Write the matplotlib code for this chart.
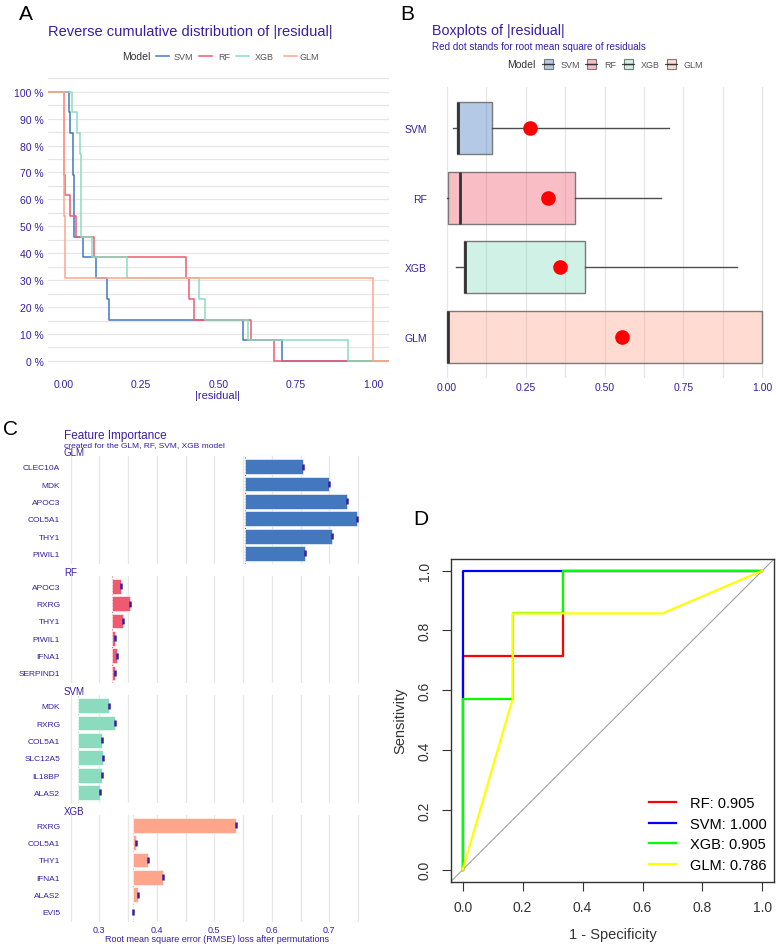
import numpy as np
import matplotlib
matplotlib.use("Agg")
import matplotlib.pyplot as plt
from matplotlib.lines import Line2D
from matplotlib.patches import Rectangle
from matplotlib.colors import to_rgba

plt.rcParams['font.family'] = ['Liberation Sans', 'DejaVu Sans']

W, H = 776, 945
PURPLE = "#371ea3"
GRID = "#e6e6e6"

# ---- data: absolute residuals per model (13 observations) ----
models = ["SVM", "RF", "XGB", "GLM"]
colors = ["#4378bf", "#f05a71", "#8bdcbe", "#ffa58c"]
svm_res = [0.019, 0.021, 0.030, 0.032, 0.034, 0.035, 0.036, 0.062, 0.105, 0.142, 0.148, 0.580, 0.704]
rf_res = [0.001, 0.002, 0.002, 0.003, 0.004, 0.022, 0.041, 0.100, 0.396, 0.406, 0.423, 0.605, 0.680]
xgb_res = [0.029, 0.043, 0.054, 0.056, 0.057, 0.057, 0.058, 0.091, 0.206, 0.438, 0.458, 0.597, 0.919]
glm_res = [0.001, 0.001, 0.002, 0.002, 0.003, 0.003, 0.004, 0.004, 0.005, 0.998, 0.999, 0.999, 1.000]
residuals = {"SVM": svm_res, "RF": rf_res, "XGB": xgb_res, "GLM": glm_res}

# ---- data: permutation feature importance (RMSE after permutation) ----
glm_vars = ["CLEC10A", "MDK", "APOC3", "COL5A1", "THY1", "PIWIL1"]
glm_loss = [0.654, 0.699, 0.731, 0.748, 0.705, 0.658]
rf_vars = ["APOC3", "RXRG", "THY1", "PIWIL1", "IFNA1", "SERPIND1"]
rf_loss = [0.338, 0.353, 0.341, 0.327, 0.330, 0.327]
svm_vars = ["MDK", "RXRG", "COL5A1", "SLC12A5", "IL18BP", "ALAS2"]
svm_loss = [0.316, 0.328, 0.305, 0.307, 0.305, 0.302]
xgb_vars = ["RXRG", "COL5A1", "THY1", "IFNA1", "ALAS2", "EVI5"]
xgb_loss = [0.538, 0.363, 0.385, 0.410, 0.367, 0.358]

# ---- data: ROC curves ----
roc_names = ["RF", "SVM", "XGB", "GLM"]
roc_colors = ["red", "blue", "#00ff00", "yellow"]
roc_auc = [0.905, 1.000, 0.905, 0.786]
rf_fpr = [0, 0, 0.3333, 0.3333, 1]
rf_tpr = [0, 0.7143, 0.7143, 1, 1]
svm_fpr = [0, 0, 1]
svm_tpr = [0, 1, 1]
xgb_fpr = [0, 0, 0.1667, 0.1667, 0.3333, 0.3333, 1]
xgb_tpr = [0, 0.5714, 0.5714, 0.8571, 0.8571, 1, 1]
glm_fpr = [0, 0.1667, 0.1667, 0.6667, 1]
glm_tpr = [0, 0.5714, 0.8571, 0.8571, 1]

fig = plt.figure(figsize=(W / 100, H / 100), dpi=100)


def px_axes(l, t, r, b):
    return fig.add_axes([l / W, 1 - b / H, (r - l) / W, (b - t) / H])


def ftext(x, y, s, **kw):
    kw.setdefault("va", "center")
    fig.text(x / W, 1 - y / H, s, **kw)


def rmse(r):
    r = np.asarray(r)
    return float(np.sqrt(np.mean(r ** 2)))


def clean(ax):
    for s in ax.spines.values():
        s.set_visible(False)
    ax.tick_params(length=0, labelcolor=PURPLE)


# panel letters
ftext(26, 15, "A", fontsize=15, ha="center")
ftext(407, 15, "B", fontsize=15, ha="center")
ftext(10, 430, "C", fontsize=15, ha="center")
ftext(421, 520, "D", fontsize=15, ha="center")

# ================= A: reverse cumulative distribution =================
axA = px_axes(47.8, 79.2, 388.8, 375.4)
axA.set_xlim(-0.05, 1.05)
axA.set_ylim(-0.05, 1.05)
for yy in np.arange(-0.05, 1.051, 0.05):
    axA.axhline(yy, color=GRID, lw=0.9, zorder=0)
for name, c in zip(models, colors):
    r = np.sort(residuals[name])
    n = len(r)
    xs = np.r_[-0.05, r, 1.05]
    ys = np.r_[1 - np.arange(n + 1) / n, 0]
    axA.step(xs, ys, where="post", color=c, lw=1.1, zorder=2)
axA.set_yticks(np.arange(0, 1.01, 0.1))
axA.set_yticklabels([f"{int(round(v * 100))} %" for v in np.arange(0, 1.01, 0.1)])
axA.set_xticks([0, 0.25, 0.5, 0.75, 1.0])
axA.set_xticklabels(["0.00", "0.25", "0.50", "0.75", "1.00"])
clean(axA)
axA.tick_params(labelsize=7.5, pad=3)
ftext(218, 396, "|residual|", fontsize=8, color=PURPLE, ha="center")
ftext(48, 32, "Reverse cumulative distribution of |residual|", fontsize=10.5, color=PURPLE)

# legend A
ftext(122, 57, "Model", fontsize=7.5, color="#333333")
for (x0, xl), name, c in zip([(156, 174), (199, 218), (236, 255), (284, 299)], models, colors):
    fig.add_artist(Line2D([x0 / W, (x0 + 13) / W], [1 - 57 / H] * 2, color=c, lw=1.1))
    ftext(xl, 57, name, fontsize=6.5, color="#555555")

# ================= B: boxplots =================
axB = px_axes(430.9, 87.7, 776, 379.3)
axB.set_xlim(-0.05, 1.043)
axB.set_ylim(0.4, 4.6)
for xx in np.arange(0, 1.001, 0.125):
    axB.axvline(xx, color=GRID, lw=0.9, zorder=0)
pos = [4, 3, 2, 1]
bp = axB.boxplot([residuals[m] for m in models], positions=pos, orientation="horizontal",
                 widths=0.75, whis=(0, 100), patch_artist=True, showcaps=False,
                 showfliers=False, zorder=2,
                 medianprops=dict(color="#333333", lw=2),
                 boxprops=dict(edgecolor="#7a7a7a", lw=1),
                 whiskerprops=dict(color="#4d4d4d", lw=1))
for patch, c in zip(bp["boxes"], colors):
    patch.set_facecolor(to_rgba(c, 0.4))
for m, p in zip(models, pos):
    axB.plot(rmse(residuals[m]), p, "o", color="red", ms=9.5, zorder=5)
axB.set_yticks(pos)
axB.set_yticklabels(models)
axB.set_xticks([0, 0.25, 0.5, 0.75, 1.0])
axB.set_xticklabels(["0.00", "0.25", "0.50", "0.75", "1.00"])
clean(axB)
axB.tick_params(labelsize=7.5, pad=3)
ftext(432, 31, "Boxplots of |residual|", fontsize=10.3, color=PURPLE)
ftext(432, 47, "Red dot stands for root mean square of residuals", fontsize=7.1, color=PURPLE)

# legend B
ftext(507, 65, "Model", fontsize=7.5, color="#333333")
for (x0, xl), name, c in zip([(542, 561), (585, 604), (622, 641), (665, 683)], models, colors):
    fig.add_artist(Line2D([x0 / W, (x0 + 12) / W], [1 - 65 / H] * 2, color="#4d4d4d", lw=0.8))
    fig.add_artist(Rectangle(((x0 + 1.5) / W, 1 - 70 / H), 9 / W, 10 / H,
                             facecolor=to_rgba(c, 0.4), edgecolor="#7a7a7a", lw=0.8))
    fig.add_artist(Line2D([(x0 + 1.5) / W, (x0 + 10.5) / W], [1 - 65 / H] * 2, color="#333333", lw=1))
    ftext(xl, 65, name, fontsize=6.5, color="#555555")

# ================= C: feature importance =================
facets = [("GLM", glm_vars, glm_loss, glm_res, "#4378bf", 457.3),
          ("RF", rf_vars, rf_loss, rf_res, "#f05a71", 576.9),
          ("SVM", svm_vars, svm_loss, svm_res, "#8bdcbe", 696.3),
          ("XGB", xgb_vars, xgb_loss, xgb_res, "#ffa58c", 815.9)]
for i, (name, vars_, loss, res, c, top) in enumerate(facets):
    ax = px_axes(63.5, top, 370.7, top + 107.5)
    ax.set_xlim(0.2377, 0.772)
    ax.set_ylim(6.6, 0.4)
    for xx in np.arange(0.25, 0.751, 0.05):
        ax.axvline(xx, color=GRID, lw=0.9, zorder=0)
    base = rmse(res)
    y = np.arange(1, len(vars_) + 1)
    ax.axvline(base, color=c, lw=0.8, ls=":", zorder=1)
    ax.barh(y, np.array(loss) - base, left=base, height=0.86, color=c,
            edgecolor="white", lw=0.4, zorder=2)
    ax.vlines(loss, y - 0.17, y + 0.17, color=PURPLE, lw=1.8, zorder=3)
    ax.set_yticks(y)
    ax.set_yticklabels(vars_)
    clean(ax)
    ax.tick_params(labelsize=6, pad=2.5)
    if i == len(facets) - 1:
        ax.set_xticks([0.3, 0.4, 0.5, 0.6, 0.7])
        ax.set_xticklabels(["0.3", "0.4", "0.5", "0.6", "0.7"])
        ax.tick_params(axis="x", labelsize=6.5, pad=2)
    else:
        ax.set_xticks([])
    ftext(64, top - 4.2, name, fontsize=7, color=PURPLE)
ftext(64, 436, "Feature Importance", fontsize=8.5, color=PURPLE)
ftext(64, 445.7, "created for the GLM, RF, SVM, XGB model", fontsize=6, color=PURPLE)
ftext(216.7, 939.5, "Root mean square error (RMSE) loss after permutations",
      fontsize=6.5, color=PURPLE, ha="center")

# ================= D: ROC curves =================
axD = px_axes(450.7, 559.7, 774.4, 882.7)
axD.set_xlim(-0.04, 1.04)
axD.set_ylim(-0.04, 1.04)
axD.axline((0, 0), slope=1, color="#a0a0a0", lw=0.8, zorder=1)
curves = [(rf_fpr, rf_tpr), (svm_fpr, svm_tpr), (xgb_fpr, xgb_tpr), (glm_fpr, glm_tpr)]
for (fx, fy), name, c, auc in zip(curves, roc_names, roc_colors, roc_auc):
    axD.plot(fx, fy, color=c, lw=1.6, label=f"{name}: {auc:.3f}", zorder=2)
ticks = np.arange(0, 1.01, 0.2)
axD.set_xticks(ticks)
axD.set_xticklabels([f"{t:.1f}" for t in ticks])
axD.set_yticks(ticks)
axD.set_yticklabels([f"{t:.1f}" for t in ticks], rotation=90, va="center")
axD.tick_params(direction="out", length=6.5, width=0.8, labelsize=10,
                colors="#333333", pad=7)
for s in axD.spines.values():
    s.set_color("#333333")
    s.set_linewidth(1)
axD.legend(loc="lower right", frameon=False, fontsize=10.5, handlelength=1.85,
           handletextpad=0.95, labelspacing=0.45, borderaxespad=0.0,
           bbox_to_anchor=(0.995, 0.012))
ftext(612.5, 935, "1 - Specificity", fontsize=10.5, color="#333333", ha="center")
ftext(400, 721, "Sensitivity", fontsize=10.5, color="#333333", ha="center", rotation=90)

fig.savefig("out.png", dpi=100)
